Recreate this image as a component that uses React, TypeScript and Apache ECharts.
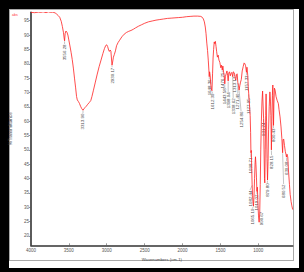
import React, { useEffect, useRef } from "react";
import * as echarts from "echarts";

const FONT = "'Liberation Sans', Arial, sans-serif";

// Spectrum (wavenumber cm-1, %T)
const wavenumbers = [
  4000, 3950, 3900, 3870, 3840, 3800, 3770, 3740, 3710, 3680, 3660, 3640, 3620, 3600, 3585, 3570, 3562, 3556,
  3548, 3538, 3525, 3512, 3500, 3485, 3470, 3455, 3440, 3425, 3410, 3398, 3388, 3375, 3360, 3345, 3330, 3313,
  3300, 3285, 3270, 3250, 3230, 3210, 3195, 3175, 3150, 3125, 3100, 3075, 3050, 3030, 3012, 3000, 2988, 2975,
  2965, 2955, 2945, 2938, 2930, 2922, 2912, 2900, 2885, 2870, 2850, 2830, 2800, 2770, 2740, 2710, 2680, 2650,
  2620, 2580, 2540, 2500, 2450, 2400, 2350, 2300, 2250, 2200, 2150, 2100, 2050, 2000, 1950, 1900, 1850, 1800,
  1760, 1740, 1725, 1712, 1700, 1690, 1680, 1670, 1660, 1652, 1648, 1643, 1636, 1628, 1620, 1612, 1604, 1597,
  1590, 1582, 1575, 1567, 1558, 1550, 1540, 1530, 1520, 1508, 1495, 1485, 1476, 1468, 1458, 1450, 1443, 1435,
  1425, 1414, 1406, 1398, 1390, 1380, 1370, 1360, 1350, 1338, 1330, 1322, 1313, 1305, 1298, 1288, 1280, 1271,
  1262, 1254, 1245, 1235, 1225, 1213, 1200, 1188, 1178, 1168, 1157, 1150, 1140, 1133, 1127, 1118, 1108, 1102,
  1098, 1093, 1088, 1082, 1076, 1070, 1065, 1058, 1050, 1043, 1038, 1032, 1025, 1019, 1013, 1006, 998, 990,
  982, 975, 968, 960, 952, 944, 938, 931, 925, 919, 915, 909, 903, 898, 892, 886, 879, 872, 865, 857, 848, 840,
  835, 828, 822, 815, 809, 804, 800, 795, 788, 779, 766, 753, 736, 727, 714, 701, 690, 680, 674, 666, 655, 645,
  636, 630, 622, 612, 603, 590, 580, 568, 558, 547,
];
const transmittance = [
  97.9, 97.8, 98.0, 97.9, 98.1, 97.8, 98.1, 97.9, 98.0, 97.7, 97.3, 96.8, 96.2, 94.8, 93.0, 90.8, 89.0, 88.0,
  90.6, 91.4, 91.0, 90.0, 88.3, 86.2, 84.0, 81.5, 78.5, 75.0, 71.6, 68.6, 67.4, 66.9, 66.2, 65.2, 64.4, 63.8,
  64.3, 64.8, 65.2, 65.9, 66.5, 67.2, 68.6, 70.8, 73.6, 76.4, 79.0, 81.3, 83.6, 85.3, 86.4, 86.6, 86.0, 84.8,
  84.3, 84.8, 84.4, 82.0, 79.5, 80.6, 82.3, 83.2, 84.5, 86.3, 87.4, 88.2, 89.4, 90.3, 90.9, 91.3, 91.6, 92.0,
  92.5, 93.1, 93.6, 94.1, 94.6, 94.9, 95.2, 95.4, 95.6, 95.8, 95.9, 96.0, 96.1, 96.2, 96.4, 96.5, 96.6, 96.6,
  96.5, 96.2, 95.6, 94.6, 92.8, 90.5, 87.2, 84.6, 81.0, 77.5, 75.5, 77.2, 76.0, 73.0, 71.2, 70.6, 76.5, 82.0,
  85.0, 87.6, 87.0, 87.8, 86.0, 84.2, 82.3, 83.0, 81.3, 80.5, 78.6, 79.5, 77.8, 79.2, 77.0, 75.8, 73.0, 75.5,
  76.5, 77.5, 76.0, 74.0, 76.8, 77.2, 75.8, 76.6, 77.0, 75.5, 77.2, 77.0, 76.4, 74.8, 74.3, 76.2, 76.5, 73.5,
  72.5, 70.8, 72.3, 73.6, 74.5, 77.5, 79.0, 80.3, 80.0, 79.3, 77.0, 78.8, 76.0, 72.0, 69.5, 66.0, 62.0, 56.0,
  49.0, 49.8, 44.0, 37.8, 34.0, 31.5, 30.4, 33.5, 40.0, 45.5, 47.6, 45.0, 40.5, 35.5, 37.0, 31.5, 27.0, 24.8,
  28.0, 38.0, 50.0, 60.0, 67.0, 70.5, 66.0, 61.0, 50.0, 40.0, 38.5, 50.0, 62.0, 69.5, 60.0, 47.0, 39.5, 46.0,
  57.0, 65.0, 70.2, 67.0, 62.0, 50.0, 60.0, 69.0, 72.6, 66.0, 58.5, 66.0, 71.5, 70.8, 68.5, 67.3, 66.1, 64.0,
  61.5, 58.0, 54.0, 49.0, 53.5, 53.8, 51.5, 49.5, 48.5, 47.5, 48.5, 47.5, 43.0, 38.0, 34.4, 32.0, 30.5, 29.2,
];

// Peak annotations
const peakWn = [3556, 3313, 2930, 1648, 1612, 1476, 1443, 1398, 1313, 1338, 1271, 1254, 1157, 1127, 1098, 1082, 1065, 1019, 990, 931, 879, 828, 800, 680, 630];
const peakT = [88.0, 63.8, 79.5, 75.5, 70.6, 77.8, 73.0, 74.0, 76.4, 75.5, 73.5, 70.8, 77.0, 69.5, 49.0, 37.8, 30.4, 35.5, 24.8, 61.0, 39.5, 50.0, 58.5, 49.0, 47.5];
const labelWn = [3556, 3313, 2930, 1648, 1606, 1476, 1443, 1398, 1313, 1332, 1271, 1228, 1157, 1127, 1098, 1110, 1078, 1019, 961, 931, 882, 826, 800, 667, 628];
const labelTopT = [86.9, 62.8, 78.8, 74.7, 69.8, 77.1, 71.6, 70.2, 75.7, 68.1, 69.8, 63.5, 76.1, 68.1, 47.5, 36.0, 29.7, 34.6, 28.6, 59.7, 38.5, 48.2, 57.6, 38.1, 46.1];
const peakText = [
  "3556.28", "3313.90", "2930.17", "1648.36", "1612.39", "1476.25", "1443.58", "1398.04", "1313.17", "1338.62",
  "1271.40", "1254.86", "1157.33", "1127.95", "1098.71", "1082.44", "1065.19", "1019.02", "990.67", "931.24",
  "879.80", "828.15", "800.43", "680.52", "630.08",
];

const X_MIN = 547;
const X_MAX = 4000;
const Y_MIN = 16.76;
const Y_MAX = 97.93;

export default function App() {
  const ref = useRef<HTMLDivElement>(null);

  useEffect(() => {
    if (!ref.current) return;
    const chart = echarts.init(ref.current, undefined, { renderer: "svg" });
    const lineData = wavenumbers.map((w, i) => [w, transmittance[i]]);
    const labelData = peakWn.map((w, i) => [w, peakT[i], labelWn[i], labelTopT[i]]);

    chart.setOption({
      animation: false,
      grid: { left: 28, right: 11.3, top: 12.3, bottom: 26.7, containLabel: false },
      xAxis: {
        type: "value",
        inverse: true,
        min: X_MIN,
        max: X_MAX,
        splitNumber: 7,
        name: "Wavenumbers (cm-1)",
        nameLocation: "middle",
        nameGap: 12.4,
        nameTextStyle: { fontSize: 4.2, color: "#444", fontFamily: FONT },
        axisLine: { show: true, onZero: false, lineStyle: { color: "#333", width: 1.6 } },
        axisTick: { show: true, inside: true, length: 2, lineStyle: { color: "#555", width: 0.6 } },
        axisLabel: {
          fontSize: 4.5,
          color: "#555",
          margin: 2.5,
          showMinLabel: false,
          showMaxLabel: true,
          fontFamily: FONT,
          formatter: (v: number) => String(Math.round(v)),
        },
        splitLine: { show: false },
      },
      yAxis: {
        type: "value",
        min: Y_MIN,
        max: Y_MAX,
        splitNumber: 16,
        name: "%Transmittance",
        nameLocation: "middle",
        nameGap: 15.3,
        nameTextStyle: { fontSize: 4.6, color: "#444", fontFamily: FONT },
        axisLine: { show: true, onZero: false, lineStyle: { color: "#333", width: 1.6 } },
        axisTick: { show: true, length: 2, lineStyle: { color: "#555", width: 0.6 } },
        axisLabel: {
          fontSize: 4.5,
          color: "#555",
          margin: 2,
          showMinLabel: false,
          showMaxLabel: false,
          fontFamily: FONT,
          formatter: (v: number) => String(Math.round(v)),
        },
        splitLine: { show: false },
      },
      series: [
        {
          type: "custom",
          z: 2,
          data: labelData,
          encode: { x: [0, 2], y: [1, 3] },
          renderItem: (params: any, api: any) => {
            const p = api.coord([api.value(0), api.value(1)]);
            const l = api.coord([api.value(2), api.value(3)]);
            const children: any[] = [];
            if (l[1] - p[1] > 1) {
              children.push({
                type: "line",
                shape: { x1: p[0], y1: p[1] + 0.5, x2: l[0], y2: l[1] },
                style: { stroke: "#8a8a8a", lineWidth: 0.5 },
              });
            }
            children.push({
              type: "text",
              x: l[0],
              y: l[1] + 0.5,
              rotation: Math.PI / 2,
              style: {
                text: peakText[params.dataIndex],
                fontSize: 4.4,
                fontFamily: FONT,
                fill: "#4a4a4a",
                align: "right",
                verticalAlign: "middle",
              },
            });
            return { type: "group", children };
          },
        },
        {
          type: "line",
          z: 3,
          data: lineData,
          symbol: "none",
          showSymbol: false,
          lineStyle: { color: "#ff1f1f", width: 0.8 },
        },
      ],
      graphic: [
        {
          type: "text",
          left: 12,
          top: 13,
          style: { text: "abs", fill: "#ff3030", fontSize: 3.5, fontFamily: FONT },
        },
      ],
    });
    return () => chart.dispose();
  }, []);

  return (
    <div style={{ position: "fixed", left: 0, top: 0, width: 304, height: 272, background: "#000" }}>
      <div style={{ position: "absolute", left: 9, top: 9, width: 290, height: 259, background: "#fff" }} />
      <div
        style={{
          position: "absolute",
          left: 9,
          top: 9,
          width: 285,
          height: 252,
          border: "1px solid #a9a9a9",
          boxSizing: "border-box",
        }}
      />
      <div ref={ref} style={{ position: "absolute", left: 0, top: 0, width: 304, height: 272 }} />
    </div>
  );
}
